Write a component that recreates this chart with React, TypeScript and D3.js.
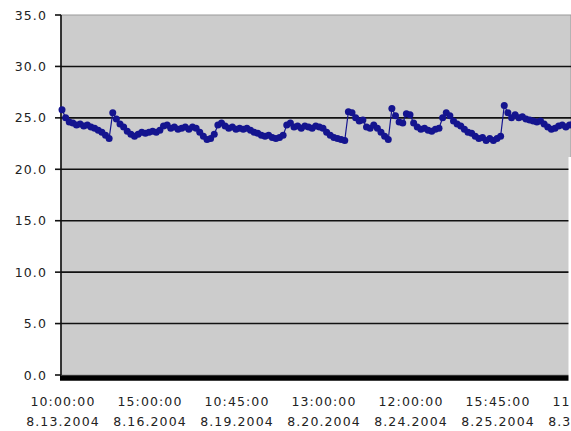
import { useEffect, useRef } from "react";
import * as d3 from "d3";

// Category labels (time on line 1, date on line 2), one every 24 readings
const timeLabels = ["10:00:00", "15:00:00", "10:45:00", "13:00:00", "12:00:00", "15:45:00", "11:00:00"];
const dateLabels = ["8.13.2004", "8.16.2004", "8.19.2004", "8.20.2004", "8.24.2004", "8.25.2004", "8.30.2004"];
const labelEvery = 24;

const yTicks = [0, 5, 10, 15, 20, 25, 30, 35];

// Temperature readings
const readings = [
  25.8, 25.0, 24.6, 24.5, 24.3, 24.4, 24.2, 24.3, 24.1, 24.0,
  23.8, 23.6, 23.3, 23.0, 25.5, 24.9, 24.4, 24.1, 23.7, 23.4,
  23.2, 23.4, 23.6, 23.5, 23.6, 23.7, 23.6, 23.8, 24.2, 24.3,
  24.0, 24.1, 23.9, 24.0, 24.1, 23.9, 24.1, 24.0, 23.6, 23.2,
  22.9, 23.0, 23.4, 24.3, 24.5, 24.2, 24.0, 24.1, 23.9, 24.0,
  23.9, 24.0, 23.8, 23.6, 23.5, 23.3, 23.2, 23.3, 23.1, 23.0,
  23.1, 23.3, 24.3, 24.5, 24.1, 24.2, 24.0, 24.2, 24.1, 24.0,
  24.2, 24.1, 24.0, 23.6, 23.3, 23.1, 23.0, 22.9, 22.8, 25.6,
  25.5, 25.0, 24.7, 24.8, 24.1, 24.0, 24.3, 24.0, 23.6, 23.2,
  22.9, 25.9, 25.2, 24.6, 24.5, 25.4, 25.3, 24.5, 24.1, 23.9,
  24.0, 23.8, 23.7, 23.9, 24.0, 25.0, 25.5, 25.2, 24.7, 24.4,
  24.2, 23.9, 23.6, 23.5, 23.2, 23.0, 23.1, 22.8, 23.0, 22.8,
  23.0, 23.2, 26.2, 25.5, 25.0, 25.3, 25.0, 25.1, 24.9, 24.8,
  24.7, 24.6, 24.7, 24.4, 24.1, 23.9, 24.0, 24.2, 24.3, 24.1,
  24.3, 24.4, 24.2, 24.3, 24.5,
];

const width = 571;
const height = 431;

export default function App() {
  const svgRef = useRef<SVGSVGElement>(null);

  useEffect(() => {
    document.body.style.margin = "0";
    if (!svgRef.current) return;

    const svg = d3.select(svgRef.current);
    svg.selectAll("*").remove();

    const left = 61;
    const top = 15;
    const bottom = 375;

    const xScale = d3.scaleLinear().domain([0, 144]).range([62, 584]);
    const yScale = d3.scaleLinear().domain([0, 35]).range([bottom, top]);

    const font = "'DejaVu Sans', Verdana, sans-serif";
    const dark = "#14148f";

    // Plot area
    svg
      .append("rect")
      .attr("x", left)
      .attr("y", top)
      .attr("width", width - left)
      .attr("height", bottom - top)
      .attr("fill", "#cccccc")
      .attr("stroke", "#9a9a9a")
      .attr("stroke-width", 1);

    // Gridlines
    svg
      .append("g")
      .selectAll("line")
      .data(yTicks.filter((t) => t > 0 && t < 35))
      .join("line")
      .attr("x1", left)
      .attr("x2", width)
      .attr("y1", (d) => yScale(d))
      .attr("y2", (d) => yScale(d))
      .attr("stroke", "#111")
      .attr("stroke-width", 1.6);

    // Y axis with ticks
    svg
      .append("line")
      .attr("x1", left)
      .attr("x2", left)
      .attr("y1", top)
      .attr("y2", bottom)
      .attr("stroke", "#111")
      .attr("stroke-width", 1.6);

    const yAxis = svg.append("g");
    yAxis
      .selectAll("line")
      .data(yTicks)
      .join("line")
      .attr("x1", 55)
      .attr("x2", left)
      .attr("y1", (d) => yScale(d))
      .attr("y2", (d) => yScale(d))
      .attr("stroke", "#111")
      .attr("stroke-width", 1.6);
    yAxis
      .selectAll("text")
      .data(yTicks)
      .join("text")
      .attr("x", 47)
      .attr("y", (d) => yScale(d))
      .attr("dy", "0.36em")
      .attr("text-anchor", "end")
      .attr("font-family", font)
      .attr("font-size", 12.5)
      .attr("letter-spacing", 1.1)
      .attr("fill", "#222")
      .text((d) => d.toFixed(1));

    // Series line and markers
    const line = d3
      .line<number>()
      .x((_, i) => xScale(i))
      .y((d) => yScale(d));

    svg
      .append("path")
      .datum(readings)
      .attr("d", line)
      .attr("fill", "none")
      .attr("stroke", dark)
      .attr("stroke-width", 1.2);

    svg
      .append("g")
      .selectAll("circle")
      .data(readings)
      .join("circle")
      .attr("cx", (_, i) => xScale(i))
      .attr("cy", (d) => yScale(d))
      .attr("r", 3.5)
      .attr("fill", dark);

    // X axis (thick)
    svg
      .append("line")
      .attr("x1", left - 1)
      .attr("x2", width)
      .attr("y1", bottom + 3)
      .attr("y2", bottom + 3)
      .attr("stroke", "#000")
      .attr("stroke-width", 5.5);

    // Little white strip at the right edge
    svg
      .append("rect")
      .attr("x", 568.5)
      .attr("y", 157)
      .attr("width", 3)
      .attr("height", 226)
      .attr("fill", "#fff");

    // Category labels
    const xLabels = svg
      .append("g")
      .selectAll("text")
      .data(timeLabels.map((t, i) => ({ t, d: dateLabels[i], idx: i * labelEvery })))
      .join("text")
      .attr("text-anchor", "middle")
      .attr("font-family", font)
      .attr("font-size", 12.5)
      .attr("letter-spacing", 1.1)
      .attr("fill", "#222");
    xLabels
      .append("tspan")
      .attr("x", (d) => xScale(d.idx) + 1)
      .attr("y", 405.5)
      .text((d) => d.t);
    xLabels
      .append("tspan")
      .attr("x", (d) => xScale(d.idx) + 1)
      .attr("y", 425.5)
      .text((d) => d.d);
  }, []);

  return (
    <svg
      ref={svgRef}
      width={width}
      height={height}
      viewBox={`0 0 ${width} ${height}`}
      style={{ display: "block", background: "#fff" }}
    />
  );
}
